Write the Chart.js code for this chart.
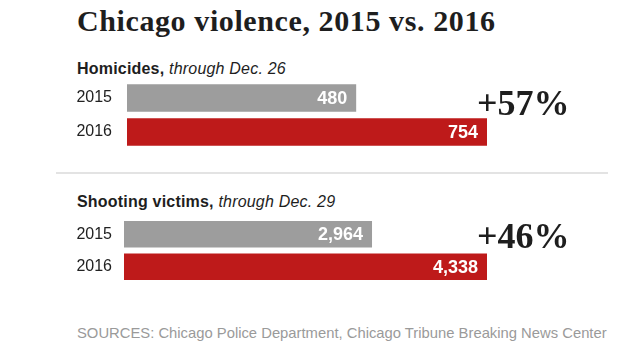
<!DOCTYPE html>
<html>
<head>
<meta charset="utf-8">
<script src="https://cdn.jsdelivr.net/npm/chart.js@4"></script>
<style>
  body { margin: 0; background: #fff; }
  #page { position: relative; width: 620px; height: 349px; overflow: hidden; font-family: "Liberation Sans", Arial, sans-serif; color: #222; }
  .abs { position: absolute; white-space: nowrap; }
  #title { left: 77px; top: 4px; font-family: "Liberation Serif", "Times New Roman", serif; font-weight: bold; font-size: 30px; letter-spacing: 0.6px; color: #1e1e1e; }
  .sub { left: 77px; font-size: 16px; color: #1e1e1e; letter-spacing: 0.2px; }
  .sub b { font-weight: bold; }
  .sub i { font-style: italic; }
  .pct { left: 477px; font-family: "Liberation Serif", "Times New Roman", serif; font-weight: bold; font-size: 36px; color: #1e1e1e; }
  #rule { left: 56px; top: 172px; width: 552px; height: 2px; background: #e3e3e3; }
  #source { left: 77px; top: 325px; font-size: 14.8px; color: #9a9a9a; }
  canvas { position: absolute; left: 0; }
</style>
</head>
<body>
<div id="page">
  <div id="title" class="abs">Chicago violence, 2015 vs. 2016</div>

  <div class="abs sub" style="top:60px"><b>Homicides,</b> <i>through Dec. 26</i></div>
  <canvas id="homChart" style="top:80px" width="620" height="72"></canvas>
  <div class="abs pct" id="homPct" style="top:82px"></div>

  <div id="rule" class="abs"></div>

  <div class="abs sub" style="top:193px"><b>Shooting victims,</b> <i>through Dec. 29</i></div>
  <canvas id="shootChart" style="top:214px" width="620" height="72"></canvas>
  <div class="abs pct" id="shootPct" style="top:215px"></div>

  <div id="source" class="abs">SOURCES: Chicago Police Department, Chicago Tribune Breaking News Center</div>
</div>

<script>
// data
const years = ["2015", "2016"];
const homicides = [480, 754];
const shootingVictims = [2964, 4338];
const homicidePct = "+57%";
const shootingPct = "+46%";

const barColors = ["#9d9d9d", "#be1a1a"];

document.getElementById("homPct").textContent = homicidePct;
document.getElementById("shootPct").textContent = shootingPct;

// white value labels inside the right end of each bar
const valueLabels = {
  id: "valueLabels",
  afterDatasetsDraw(chart) {
    const ctx = chart.ctx;
    const meta = chart.getDatasetMeta(0);
    const values = chart.data.datasets[0].data;
    ctx.save();
    ctx.fillStyle = "#fff";
    ctx.font = "bold 18px 'Liberation Sans', Arial, sans-serif";
    ctx.textAlign = "right";
    ctx.textBaseline = "middle";
    meta.data.forEach(function(bar, i) {
      ctx.fillText(values[i].toLocaleString("en-US"), bar.x - 9, bar.y + 1);
    });
    ctx.restore();
  }
};

function makeBars(canvasId, values, left, padTop, padBottom) {
  new Chart(document.getElementById(canvasId), {
    type: "bar",
    data: {
      labels: years,
      datasets: [{
        data: values,
        backgroundColor: barColors,
        borderWidth: 0,
        barPercentage: 0.81,
        categoryPercentage: 1
      }]
    },
    options: {
      indexAxis: "y",
      responsive: false,
      animation: false,
      layout: { padding: { top: padTop, bottom: padBottom, left: 0, right: 133 } },
      plugins: { legend: { display: false }, tooltip: { enabled: false } },
      scales: {
        x: {
          display: false,
          min: 0,
          max: Math.max.apply(null, values)
        },
        y: {
          grid: { display: false, drawTicks: false },
          border: { display: false },
          ticks: {
            color: "#222",
            padding: left - 112,
            font: { size: 16, family: "'Liberation Sans', Arial, sans-serif" }
          },
          // fixed axis width, and no extra top/bottom room for the labels
          afterFit: function(scale) {
            scale.width = left;
            scale.paddingTop = 0;
            scale.paddingBottom = 0;
          }
        }
      }
    },
    plugins: [valueLabels]
  });
}

makeBars("homChart", homicides, 127, 1, 3);
makeBars("shootChart", shootingVictims, 124, 4, 3);
</script>
</body>
</html>
